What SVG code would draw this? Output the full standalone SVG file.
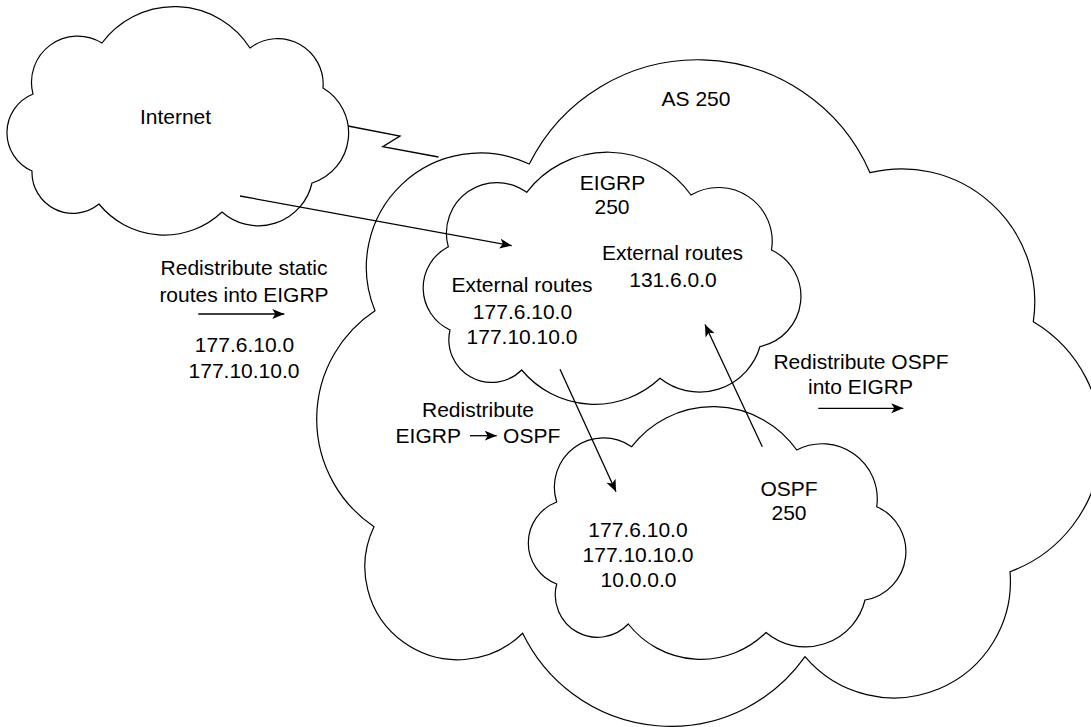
<svg xmlns="http://www.w3.org/2000/svg" width="1091" height="727" viewBox="0 0 1091 727">
<style>
.cloud{fill:none;stroke:#000;stroke-width:1.2;stroke-linejoin:miter}
.conn{fill:none;stroke:#000;stroke-width:1.3}
.t{font-family:"Liberation Sans",Arial,Helvetica,sans-serif;font-size:21px;fill:#000;text-anchor:middle}
</style>
<defs>
<marker id="ah" markerUnits="userSpaceOnUse" markerWidth="13" markerHeight="11" refX="12" refY="5" orient="auto">
<path d="M0,0 L12,5 L0,10 L3,5 Z" fill="#000"/>
</marker>
</defs>
<rect width="1091" height="727" fill="#fff"/>
<g id="internet">
<path class="cloud" d="M102,43 A90,90 0 0 1 250,48 A45.5,45.5 0 0 1 323,88 A52.4,52.4 0 0 1 312,183 A54.9,54.9 0 0 1 222,212 A83.9,83.9 0 0 1 99,204 A41,41 0 0 1 32,171 A41.8,41.8 0 0 1 33,94 A46.2,46.2 0 0 1 102,43 Z"/>
<text class="t" x="175.5" y="124">Internet</text>
</g>
<g id="as250">
<path class="cloud" d="M529.3,164 A188,188 0 0 1 870,172.7 A133,133 0 0 1 1033.3,321.7 A139,139 0 0 1 1010,571.7 A116.5,116.5 0 0 1 805,656.7 A164.3,164.3 0 0 1 522.7,633.3 A92.9,92.9 0 0 1 374,526.7 A129.8,129.8 0 0 1 375,310.7 A114.1,114.1 0 0 1 529.3,164 Z"/>
<text class="t" x="696" y="106">AS 250</text>
</g>
<g id="eigrp">
<path class="cloud" d="M526.7,192.3 A102.2,102.2 0 0 1 691,195 A53.8,53.8 0 0 1 771.5,250 A51.2,51.2 0 0 1 760,346.5 A63.1,63.1 0 0 1 660,378.3 A94.9,94.9 0 0 1 521.7,370 A42.7,42.7 0 0 1 450,330 A46.4,46.4 0 0 1 448.3,246.7 A50.5,50.5 0 0 1 526.7,192.3 Z"/>
<text class="t" x="612.5" y="190">EIGRP</text>
<text class="t" x="612" y="214">250</text>
<text class="t" x="672.5" y="260">External routes</text>
<text class="t" x="673" y="286.5">131.6.0.0</text>
<text class="t" x="522" y="292">External routes</text>
<text class="t" x="522.5" y="318.5">177.6.10.0</text>
<text class="t" x="522" y="343.5">177.10.10.0</text>
</g>
<g id="ospf">
<path class="cloud" d="M631.7,446.7 A102.5,102.5 0 0 1 796.7,450 A55.1,55.1 0 0 1 876.7,506.7 A49.1,49.1 0 0 1 865,600 A61.3,61.3 0 0 1 766,632.5 A92.3,92.3 0 0 1 628.3,624 A42.3,42.3 0 0 1 556.7,584 A43.8,43.8 0 0 1 556.7,502 A49.2,49.2 0 0 1 631.7,446.7 Z"/>
<text class="t" x="789" y="495.5">OSPF</text>
<text class="t" x="789" y="520">250</text>
<text class="t" x="638" y="536.5">177.6.10.0</text>
<text class="t" x="638" y="561.5">177.10.10.0</text>
<text class="t" x="638.5" y="586.5">10.0.0.0</text>
</g>
<g id="label-static">
<text class="t" x="244" y="275">Redistribute static</text>
<text class="t" x="244" y="301.5">routes into EIGRP</text>
<text class="t" x="244.5" y="351.5">177.6.10.0</text>
<text class="t" x="244" y="377.5">177.10.10.0</text>
</g>
<g id="label-eigrp-ospf">
<text class="t" x="478" y="417.3">Redistribute</text>
<text class="t" x="428.3" y="443.3">EIGRP</text>
<text class="t" x="531.7" y="443.3">OSPF</text>
</g>
<g id="label-ospf-eigrp">
<text class="t" x="861" y="369.3">Redistribute OSPF</text>
<text class="t" x="860.5" y="394">into EIGRP</text>
</g>
<g id="connectors">
<polyline class="conn" points="348,126 400,136 382.7,146.7 438.5,157"/>
<line class="conn" x1="240" y1="196" x2="511.7" y2="245.7" marker-end="url(#ah)"/>
<line class="conn" x1="198.3" y1="314" x2="284.3" y2="314" marker-end="url(#ah)"/>
<line class="conn" x1="560" y1="369.3" x2="616" y2="491.7" marker-end="url(#ah)"/>
<line class="conn" x1="762.3" y1="446.7" x2="705" y2="324.5" marker-end="url(#ah)"/>
<line class="conn" x1="818.3" y1="408.3" x2="903.3" y2="408.3" marker-end="url(#ah)"/>
<line class="conn" x1="470" y1="435.7" x2="496.7" y2="435.7" marker-end="url(#ah)"/>
</g>
</svg>
